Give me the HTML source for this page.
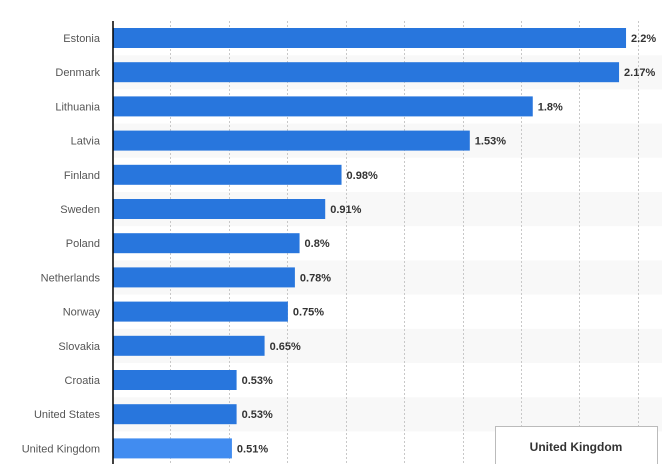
<!DOCTYPE html>
<html><head><meta charset="utf-8"><style>
body{margin:0;background:#fff;width:662px;height:464px;overflow:hidden;font-family:"Liberation Sans",Arial,sans-serif;}
</style></head><body>
<svg width="662" height="464" xmlns="http://www.w3.org/2000/svg" font-family="Liberation Sans, Arial, sans-serif">
<g id="bands"></g>
<g stroke="#c8c8c8" stroke-dasharray="2,2" stroke-width="1">
<line x1="170.5" y1="21" x2="170.5" y2="464"/><line x1="229.5" y1="21" x2="229.5" y2="464"/>
<line x1="287.5" y1="21" x2="287.5" y2="464"/><line x1="346.5" y1="21" x2="346.5" y2="464"/>
<line x1="404.5" y1="21" x2="404.5" y2="464"/><line x1="463.5" y1="21" x2="463.5" y2="464"/>
<line x1="521.5" y1="21" x2="521.5" y2="464"/><line x1="579.5" y1="21" x2="579.5" y2="464"/>
<line x1="638.5" y1="21" x2="638.5" y2="464"/>
</g>
<g id="bars"></g>
<line x1="113" y1="21" x2="113" y2="464" stroke="#000" stroke-width="1.5"/>
<rect x="495.5" y="426.5" width="162" height="40" fill="#fff" stroke="#bbb"/>
<text x="576" y="451" text-anchor="middle" font-size="12" font-weight="bold" fill="#333">United Kingdom</text>
</svg>
<script>
const d=[["Estonia",2.2,"2.2%"],["Denmark",2.17,"2.17%"],["Lithuania",1.8,"1.8%"],["Latvia",1.53,"1.53%"],["Finland",0.98,"0.98%"],["Sweden",0.91,"0.91%"],["Poland",0.8,"0.8%"],["Netherlands",0.78,"0.78%"],["Norway",0.75,"0.75%"],["Slovakia",0.65,"0.65%"],["Croatia",0.53,"0.53%"],["United States",0.53,"0.53%"],["United Kingdom",0.51,"0.51%"]];
const ns="http://www.w3.org/2000/svg";const B=document.getElementById("bars"),G=document.getElementById("bands");
function el(p,t,a,tx){const e=document.createElementNS(ns,t);for(const k in a)e.setAttribute(k,a[k]);if(tx)e.textContent=tx;p.appendChild(e);}
d.forEach((r,i)=>{const y=21+34.2*i;
if(i%2)el(G,"rect",{x:113,y:y,width:549,height:34.2,fill:"#f8f8f8"});
const w=r[1]*233.2;
el(B,"rect",{x:113,y:y+7,width:w,height:20,fill:i==12?"#418cf0":"#2876dd"});
el(B,"text",{x:100,y:y+21,"text-anchor":"end","font-size":"11",fill:"#555"},r[0]);
el(B,"text",{x:113+w+5,y:y+21,"font-size":"11","font-weight":"bold",fill:"#333"},r[2]);});
</script>
</body></html>
